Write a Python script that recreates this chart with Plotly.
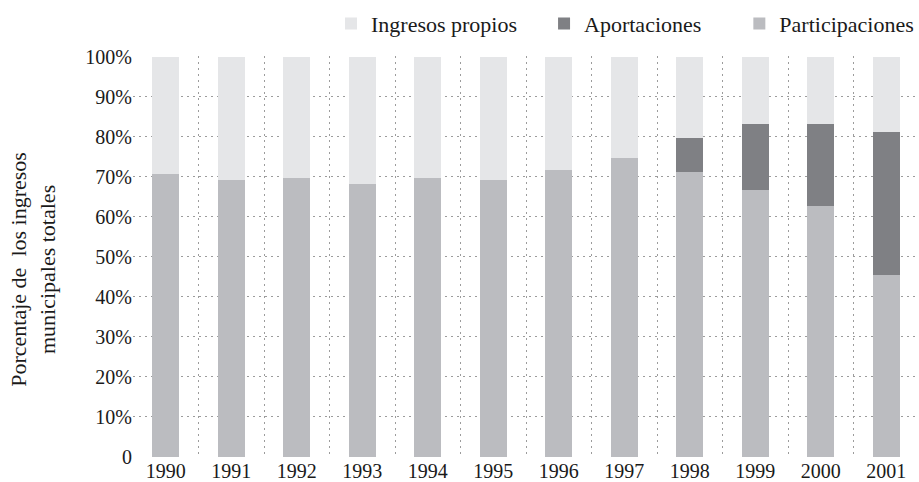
import plotly.graph_objects as go

years = ["1990", "1991", "1992", "1993", "1994", "1995", "1996", "1997", "1998", "1999", "2000", "2001"]
participaciones = [70.6, 69.1, 69.6, 68.3, 69.6, 69.3, 71.8, 74.8, 71.3, 66.6, 62.6, 45.5]
aportaciones = [0, 0, 0, 0, 0, 0, 0, 0, 8.3, 16.5, 20.5, 35.8]
ingresos_propios = [round(100 - p - a, 1) for p, a in zip(participaciones, aportaciones)]

y_tickvals = [0, 10, 20, 30, 40, 50, 60, 70, 80, 90, 100]
y_ticktext = ["0", "10%", "20%", "30%", "40%", "50%", "60%", "70%", "80%", "90%", "100%"]

FONT = "Liberation Serif"
GRID = "#9c9c9c"
fig = go.Figure()
fig.add_trace(go.Bar(x=years, y=participaciones, name="Participaciones",
                     marker=dict(color="#bbbcc0", line=dict(width=0)), width=0.41))
fig.add_trace(go.Bar(x=years, y=aportaciones, name="Aportaciones" + "\u00a0" * 6,
                     marker=dict(color="#7f8084", line=dict(width=0)), width=0.41))
fig.add_trace(go.Bar(x=years, y=ingresos_propios, name="Ingresos propios" + "\u00a0" * 4,
                     marker=dict(color="#e5e6e8", line=dict(width=0)), width=0.41))

fig.update_layout(
    width=919, height=482,
    barmode="stack",
    paper_bgcolor="white", plot_bgcolor="white",
    font=dict(family=FONT, size=20, color="#1a1a1a"),
    margin=dict(l=133, r=0, t=56, b=25),
    legend=dict(orientation="h", x=1, xanchor="right", y=1.133, yanchor="top",
                traceorder="reversed", font=dict(size=22), itemwidth=30,
                bgcolor="rgba(0,0,0,0)"),
    xaxis=dict(type="category", tickson="boundaries", showgrid=True,
               gridcolor=GRID, griddash="2px,4px", gridwidth=1,
               ticks="", showline=False, zeroline=False, automargin=False,
               tickfont=dict(size=20)),
    yaxis=dict(range=[0, 100.2], tickvals=y_tickvals, ticktext=y_ticktext,
               showgrid=True, gridcolor=GRID, griddash="2px,4px", gridwidth=1,
               zeroline=False, showline=False, ticks="", automargin=False,
               tickfont=dict(size=20)),
    annotations=[dict(text="Porcentaje de  los ingresos<br>municipales totales",
                      textangle=-90, xref="paper", yref="paper", x=0, y=0.467,
                      xanchor="center", yanchor="middle", xshift=-100,
                      showarrow=False, font=dict(size=22, family=FONT))],
)
fig.write_html("out.html", config={"displayModeBar": False},
               post_script="document.body.style.margin='0';")
